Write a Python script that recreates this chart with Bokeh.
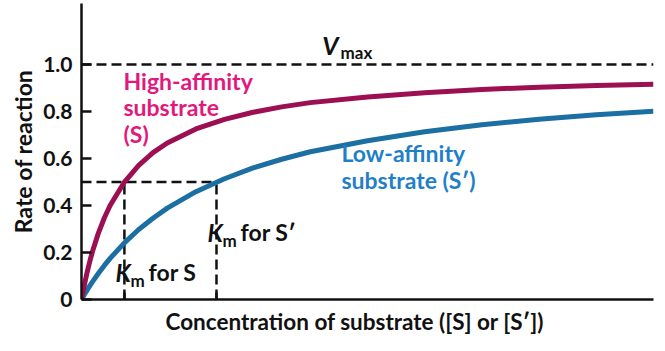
from bokeh.plotting import figure
from bokeh.models import Range1d, Label, FixedTicker, Title
from bokeh.embed import file_html
from bokeh.resources import INLINE

# ---- data ----
conc = [0, 0.02, 0.05, 0.1, 0.15, 0.2, 0.3, 0.4, 0.5, 0.75, 1.0, 1.25, 1.5, 2.0,
        2.5, 3.0, 3.5, 4.0, 5.0, 6.0, 7.0, 8.0, 9.0, 10.0]
rate_high = [0, 0.026, 0.062, 0.118, 0.167, 0.211, 0.286, 0.348, 0.400, 0.500,
             0.571, 0.625, 0.666, 0.726, 0.767, 0.797, 0.820, 0.838, 0.862,
             0.880, 0.894, 0.904, 0.911, 0.916]
rate_low = [0, 0.008, 0.021, 0.041, 0.060, 0.078, 0.113, 0.145, 0.175, 0.241,
            0.298, 0.346, 0.389, 0.459, 0.514, 0.560, 0.597, 0.629, 0.676,
            0.714, 0.744, 0.767, 0.786, 0.801]
km_s = 0.75
km_s2 = 2.36
vmax = 1.0
half = 0.5
y_ticks = [0, 0.2, 0.4, 0.6, 0.8, 1.0]
y_tick_labels = ["0", "0.2", "0.4", "0.6", "0.8", "1.0"]

FONT = "Lato"
BLACK = "#111111"
MAG_LINE = "#9c0f52"
MAG_TEXT = "#e3187d"
BLUE_LINE = "#1b6fa3"
BLUE_TEXT = "#1f80c8"

p = figure(width=665, height=351, output_backend="svg", toolbar_location=None,
           x_range=Range1d(0, 10), y_range=Range1d(0, 1.26),
           min_border_left=81, min_border_right=12, min_border_top=3,
           min_border_bottom=52)
p.outline_line_color = None
p.xgrid.visible = False
p.ygrid.visible = False
p.background_fill_color = "white"

# axes
p.yaxis.ticker = FixedTicker(ticks=y_ticks)
p.yaxis.major_label_overrides = {t: l for t, l in zip(y_ticks, y_tick_labels)}
p.yaxis.major_tick_in = 10
p.yaxis.major_tick_out = 0
p.yaxis.minor_tick_line_color = None
p.yaxis.major_label_standoff = 9
p.yaxis.major_label_text_font = FONT
p.yaxis.major_label_text_font_style = "bold"
p.yaxis.major_label_text_font_size = "21px"
p.yaxis.major_label_text_color = BLACK
p.yaxis.axis_label = "Rate of reaction"
p.yaxis.axis_label_standoff = 3
p.yaxis.axis_label_text_font_size = "23px"

p.xaxis.ticker = FixedTicker(ticks=[km_s, km_s2])
p.xaxis.major_label_overrides = {km_s: "", km_s2: ""}
p.xaxis.major_tick_in = 7
p.xaxis.major_tick_out = 0
p.xaxis.minor_tick_line_color = None
p.xaxis.major_label_text_font_size = "1px"
p.xaxis.major_label_standoff = 0

for ax in (p.xaxis, p.yaxis):
    ax.axis_line_width = 2.5
    ax.axis_line_color = BLACK
    ax.major_tick_line_width = 2.5
    ax.major_tick_line_color = BLACK
    ax.axis_label_text_font = FONT
    ax.axis_label_text_font_style = "bold"
    ax.axis_label_text_color = BLACK

# x axis title placed below, shifted to match the picture
p.add_layout(Title(text="Concentration of substrate ([S] or [S\u2032])",
                   align="left", offset=84, standoff=12,
                   text_font=FONT, text_font_style="bold",
                   text_font_size="22.5px", text_color=BLACK), "below")

# dashed guide lines
DASH = dict(line_color=BLACK, line_width=2.5, line_dash="10 5")
p.line([0, 10], [vmax, vmax], **DASH)
p.line([0, km_s2], [half, half], **DASH)
p.line([km_s, km_s], [0, half], **DASH)
p.line([km_s2, km_s2], [0, half], **DASH)

# curves
p.line(conc, rate_low, line_color=BLUE_LINE, line_width=5)
p.line(conc, rate_high, line_color=MAG_LINE, line_width=5)


def lab(x, y, text, color=BLACK, size=23, style="bold", align="left"):
    p.add_layout(Label(x=x, y=y, text=text, text_color=color,
                       text_font=FONT, text_font_size=f"{size}px",
                       text_font_style=style, text_align=align,
                       text_baseline="alphabetic",
                       y_offset=round(size * 0.43)))


# Vmax
lab(4.21, 1.038, "V", style="bold italic", size=25)
lab(4.53, 1.021, "max", size=17)

# High-affinity label
lab(0.734, 0.889, "High-affinity", color=MAG_TEXT)
lab(0.734, 0.777, "substrate", color=MAG_TEXT)
lab(0.734, 0.664, "(S)", color=MAG_TEXT)

# Low-affinity label
lab(4.545, 0.583, "Low-affinity", color=BLUE_TEXT)
lab(4.545, 0.464, "substrate (S\u2032)", color=BLUE_TEXT)

# Km for S
lab(0.594, 0.074, "K", style="bold italic", size=24)
lab(0.857, 0.051, "m", size=17)
lab(1.171, 0.074, "for S")

# Km for S'
lab(2.203, 0.243, "K", style="bold italic", size=24)
lab(2.465, 0.221, "m", size=17)
lab(2.78, 0.243, "for S\u2032")

open("out.html", "w").write(file_html(p, INLINE))
